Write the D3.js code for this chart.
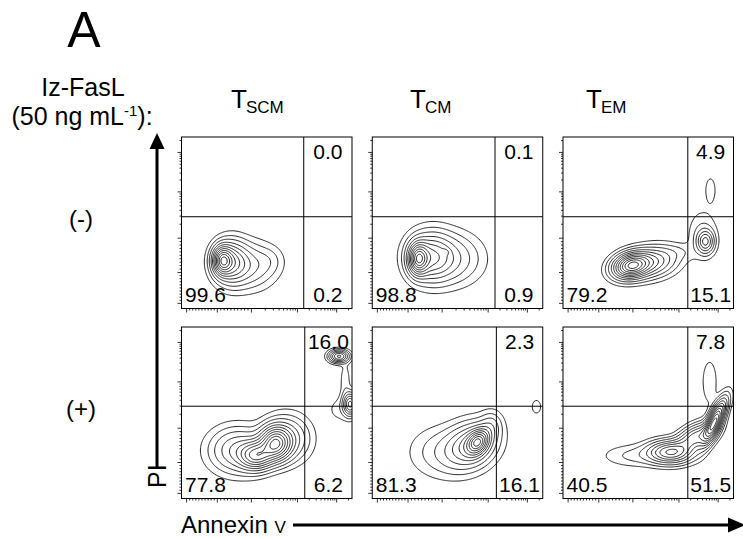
<!doctype html>
<html lang="en">
<head>
<meta charset="utf-8">
<style>
body { margin: 0; background: #fff; }
svg text { font-family: "Liberation Sans", Arial, Helvetica, sans-serif; fill: #000; }
.frame { fill: none; stroke: #000; stroke-width: 1; }
.gate { stroke: #000; stroke-width: 1; }
.contour { fill: none; stroke: #111; stroke-width: 0.9; }
.tick { stroke: #000; stroke-width: 0.8; }
</style>
</head>
<body>
<svg id="chart" width="743" height="539"></svg>
<script src="https://cdn.jsdelivr.net/npm/d3@7"></script>
<script>
// columns (T cell subsets) and rows (Iz-FasL treatment)
var subsets = [["T", "SCM"], ["T", "CM"], ["T", "EM"]];
var treatments = ["(-)", "(+)"];

// quadrant percentages, panels row by row
var pctUR = ["0.0", "0.1", "4.9", "16.0", "2.3", "7.8"];
var pctLR = ["0.2", "0.9", "15.1", "6.2", "16.1", "51.5"];
var pctLL = ["99.6", "98.8", "79.2", "77.8", "81.3", "40.5"];

// quadrant gates, in display units of the axes (0..1)
var gateX = [0.717, 0.72, 0.732, 0.723, 0.728, 0.732];
var gateY = [0.535, 0.535, 0.535, 0.538, 0.538, 0.538];

// populations: [x, y, sdX, sdY, rho, weight]
var popSCMneg = [
    [0.24, 0.28, 0.035, 0.05, 0, 1],
    [0.29, 0.27, 0.06, 0.075, 0, 0.6],
    [0.39, 0.25, 0.095, 0.08, 0, 0.3],
    [0.52, 0.28, 0.05, 0.05, 0, 0.06]
];
var popCMneg = [
    [0.27, 0.29, 0.035, 0.055, 0, 1],
    [0.34, 0.30, 0.08, 0.085, 0, 0.55],
    [0.46, 0.29, 0.11, 0.09, 0, 0.25],
    [0.43, 0.33, 0.015, 0.012, 0, 0.12]
];
var popEMneg = [
    [0.40, 0.25, 0.065, 0.045, 0.2, 1],
    [0.52, 0.27, 0.09, 0.055, 0.2, 0.4],
    [0.836, 0.39, 0.03, 0.04, 0, 0.4],
    [0.82, 0.43, 0.055, 0.09, 0, 0.08],
    [0.68, 0.33, 0.06, 0.03, 0, 0.04],
    [0.865, 0.69, 0.022, 0.055, 0, 0.06]
];
var popSCMpos = [
    [0.55, 0.32, 0.055, 0.06, 0, 1],
    [0.44, 0.25, 0.06, 0.05, 0, 0.75],
    [0.33, 0.28, 0.10, 0.08, 0, 0.35],
    [0.62, 0.35, 0.08, 0.08, 0, 0.3],
    [0.924, 0.829, 0.035, 0.022, 0, 0.6],
    [0.99, 0.55, 0.025, 0.04, 0, 0.6],
    [0.96, 0.68, 0.02, 0.08, 0, 0.06],
    [0.93, 0.52, 0.05, 0.05, 0, 0.05]
];
var popCMpos = [
    [0.62, 0.33, 0.04, 0.045, 0.3, 1],
    [0.58, 0.31, 0.09, 0.08, 0.2, 0.55],
    [0.42, 0.27, 0.12, 0.09, 0, 0.15],
    [0.70, 0.43, 0.04, 0.05, 0, 0.15],
    [0.963, 0.535, 0.02, 0.03, 0, 0.08]
];
var popEMpos = [
    [0.89, 0.45, 0.04, 0.075, 0.75, 1],
    [0.78, 0.36, 0.07, 0.05, 0.5, 0.45],
    [0.63, 0.27, 0.08, 0.04, 0, 0.6],
    [0.43, 0.25, 0.12, 0.04, 0, 0.08],
    [0.86, 0.68, 0.03, 0.09, 0, 0.06]
];
var panels = [popSCMneg, popCMneg, popEMneg, popSCMpos, popCMpos, popEMpos];

// contour levels as a fraction of peak density
var levels = [0.025, 0.06, 0.11, 0.18, 0.26, 0.35, 0.45, 0.56, 0.68, 0.8, 0.92];

// biexponential axis decades and where they sit on the display
var decades = [-1000, 0, 1000, 10000, 100000];
var decadePos = [0.03, 0.21, 0.41, 0.68, 0.91];
var minorSteps = [2, 3, 4, 5, 6, 7, 8, 9];

var svg = d3.select("#chart");
var W = 170.5, H = 171.5;
var colX = d3.scaleLinear().domain([0, 2]).range([181.5, 563]);
var rowY = d3.scaleLinear().domain([0, 1]).range([137, 327]);

var x = d3.scaleLinear().domain([0, 1]).range([0, W]);
var y = d3.scaleLinear().domain([0, 1]).range([H, 0]);

function biex(v) {
    var a = Math.abs(v);
    return a <= 1000 ? v / 1000 : Math.sign(v) * (1 + Math.log10(a / 1000));
}
var display = d3.scaleLinear().domain(decades.map(biex)).range(decadePos);

var minorTicks = [];
for (var k = 1; k <= 9; k++) { minorTicks.push(-k * 100); minorTicks.push(k * 100); }
[1000, 10000].forEach(function(d) {
    minorSteps.forEach(function(m) { minorTicks.push(d * m); });
});
minorSteps.slice(0, 2).forEach(function(m) { minorTicks.push(100000 * m); });
minorTicks = minorTicks.filter(function(v) { return display(biex(v)) < 1; });

var n = 180, lo = -0.05, hi = 1.05;
function densityGrid(comps) {
    var vals = new Float64Array(n * n);
    for (var j = 0; j < n; j++) {
        var v = hi - (j + 0.5) / n * (hi - lo);
        for (var i = 0; i < n; i++) {
            var u = lo + (i + 0.5) / n * (hi - lo);
            var s = 0;
            comps.forEach(function(c) {
                var dx = (u - c[0]) / c[2], dy = (v - c[1]) / c[3], r = c[4];
                s += c[5] * Math.exp(-0.5 / (1 - r * r) * (dx * dx - 2 * r * dx * dy + dy * dy));
            });
            vals[j * n + i] = s;
        }
    }
    return vals;
}

var gridPath = d3.geoPath(d3.geoTransform({
    point: function(gx, gy) {
        this.stream.point(x(lo + gx / n * (hi - lo)), y(hi - gy / n * (hi - lo)));
    }
}));

panels.forEach(function(comps, p) {
    var col = p % 3, row = Math.floor(p / 3);
    var g = svg.append("g").attr("transform", "translate(" + colX(col) + "," + rowY(row) + ")");

    g.append("clipPath").attr("id", "clip" + p)
        .append("rect").attr("width", W).attr("height", H);

    var vals = densityGrid(comps);
    var peak = d3.max(vals);
    var contours = d3.contours().size([n, n])
        .thresholds(levels.map(function(l) { return l * peak; }))(vals);

    g.append("g").attr("clip-path", "url(#clip" + p + ")")
        .selectAll("path").data(contours).join("path")
        .attr("class", "contour")
        .attr("d", gridPath);

    // quadrant gate
    g.append("line").attr("class", "gate")
        .attr("x1", x(gateX[p])).attr("x2", x(gateX[p]))
        .attr("y1", 0).attr("y2", H);
    g.append("line").attr("class", "gate")
        .attr("x1", 0).attr("x2", W)
        .attr("y1", y(gateY[p])).attr("y2", y(gateY[p]));

    g.append("rect").attr("class", "frame").attr("width", W).attr("height", H);

    // ticks: left and bottom
    var ticks = decades.map(function(v) { return { v: v, len: 4 }; })
        .concat(minorTicks.map(function(v) { return { v: v, len: 2 }; }));
    g.selectAll(".xt").data(ticks).join("line").attr("class", "tick")
        .attr("x1", function(d) { return x(display(biex(d.v))); })
        .attr("x2", function(d) { return x(display(biex(d.v))); })
        .attr("y1", H).attr("y2", function(d) { return H + d.len; });
    g.selectAll(".yt").data(ticks).join("line").attr("class", "tick")
        .attr("y1", function(d) { return y(display(biex(d.v))); })
        .attr("y2", function(d) { return y(display(biex(d.v))); })
        .attr("x1", 0).attr("x2", function(d) { return -d.len; });

    // quadrant percentages
    var qmid = (x(gateX[p]) + W) / 2;
    g.append("text").attr("x", qmid).attr("y", 21.5).attr("text-anchor", "middle")
        .attr("font-size", 21).text(pctUR[p]);
    g.append("text").attr("x", qmid).attr("y", H - 6.5).attr("text-anchor", "middle")
        .attr("font-size", 21).text(pctLR[p]);
    g.append("text").attr("x", 3.5).attr("y", H - 6.5)
        .attr("font-size", 21).text(pctLL[p]);
});

// column headers
var headX = [231, 410, 586];
subsets.forEach(function(s, i) {
    var t = svg.append("text").attr("x", headX[i]).attr("y", 108).attr("font-size", 26);
    t.append("tspan").text(s[0]);
    t.append("tspan").attr("dy", 5).attr("dx", -1).attr("font-size", 17).text(s[1]);
});

// row labels
treatments.forEach(function(t, i) {
    svg.append("text").attr("x", 81).attr("y", rowY(i) + 90).attr("text-anchor", "middle")
        .attr("font-size", 24).text(t);
});

svg.append("text").attr("x", 84).attr("y", 47).attr("text-anchor", "middle")
    .attr("font-size", 50).text("A");
svg.append("text").attr("x", 83).attr("y", 96).attr("text-anchor", "middle")
    .attr("font-size", 25).text("Iz-FasL");
var conc = svg.append("text").attr("x", 82).attr("y", 125).attr("text-anchor", "middle")
    .attr("font-size", 25);
conc.append("tspan").text("(50 ng mL");
conc.append("tspan").attr("dy", -9).attr("font-size", 15).text("-1");
conc.append("tspan").attr("dy", 9).text("):");

// axis titles with arrows
svg.append("line").attr("x1", 157).attr("x2", 157).attr("y1", 145).attr("y2", 467)
    .attr("stroke", "#000").attr("stroke-width", 3);
svg.append("path").attr("d", "M157,133L149.5,149L164.5,149Z").attr("fill", "#000");
svg.append("text").attr("transform", "translate(166,488) rotate(-90)")
    .attr("font-size", 25).text("PI");

var ax = svg.append("text").attr("x", 181).attr("y", 533).attr("font-size", 24);
ax.append("tspan").text("Annexin ");
ax.append("tspan").attr("font-size", 17).text("V");
svg.append("line").attr("x1", 293).attr("x2", 732).attr("y1", 525).attr("y2", 525)
    .attr("stroke", "#000").attr("stroke-width", 3);
svg.append("path").attr("d", "M745,525L728,517.5L728,532.5Z").attr("fill", "#000");
</script>
</body>
</html>
